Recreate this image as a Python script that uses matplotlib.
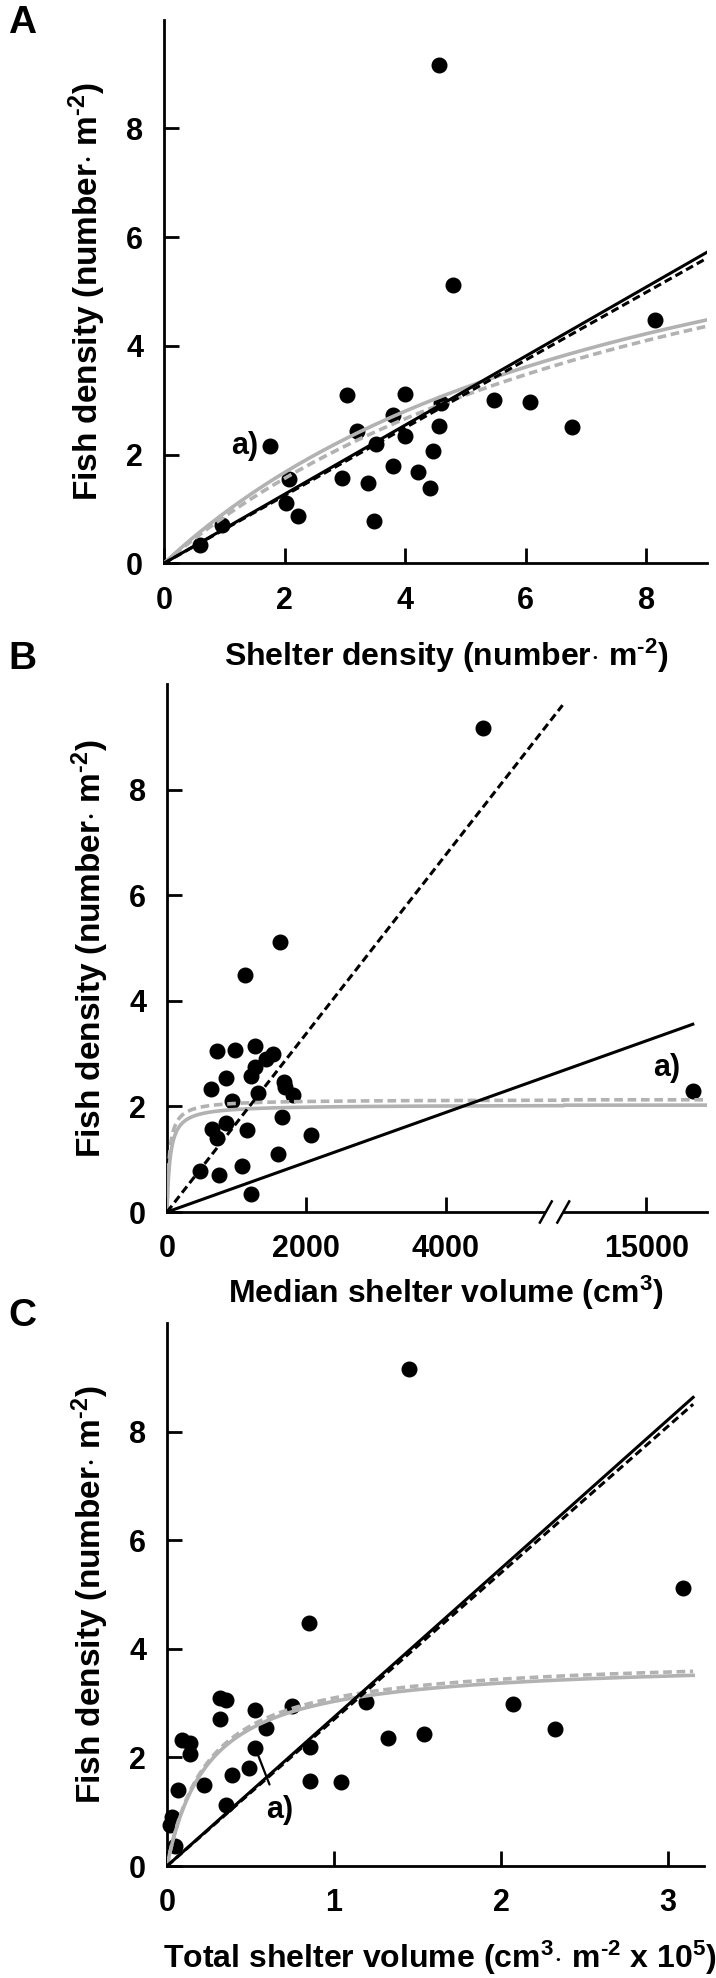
import numpy as np
import matplotlib
matplotlib.use("Agg")
import matplotlib.pyplot as plt
from matplotlib.patches import Rectangle

plt.rcParams['font.family'] = ['Liberation Sans', 'DejaVu Sans']
plt.rcParams['font.weight'] = 'bold'
plt.rcParams['mathtext.fontset'] = 'custom'
plt.rcParams['mathtext.rm'] = 'Liberation Sans:bold'
plt.rcParams['mathtext.bf'] = 'Liberation Sans:bold'
plt.rcParams['mathtext.it'] = 'Liberation Sans:bold'

# ---------------- data ----------------
# Panel A: shelter density vs fish density
A_x = [4.56, 4.80, 8.15, 5.48, 6.08, 6.77, 3.03, 4.00, 4.59, 3.80, 3.20, 4.56, 4.00, 3.52,
       1.76, 4.47, 3.80, 4.21, 2.95, 3.39, 4.41, 2.07, 2.02, 2.23, 3.48, 0.96, 0.59]
A_y = [9.17, 5.11, 4.47, 3.01, 2.96, 2.50, 3.09, 3.12, 2.95, 2.72, 2.44, 2.53, 2.35, 2.20,
       2.15, 2.07, 1.79, 1.67, 1.56, 1.47, 1.39, 1.55, 1.10, 0.87, 0.77, 0.70, 0.33]
A_lin_solid = 0.635
A_lin_dashed = 0.623
A_mm_solid = (8.6, 8.3)
A_mm_dashed = (8.93, 9.44)
A_xmax_fit = 9.0

# Panel B: median shelter volume vs fish density
B_x = [4541, 1622, 1121, 719, 974, 1261, 1415, 1525, 1261, 1204, 854, 638, 1679, 1688, 1309,
       1808, 935, 1655, 854, 1151, 647, 719, 2072, 1597, 1079, 480, 743, 1213, 15667]
B_y = [9.16, 5.12, 4.49, 3.04, 3.07, 3.14, 2.90, 2.99, 2.74, 2.57, 2.54, 2.33, 2.46, 2.36, 2.26,
       2.21, 2.11, 1.79, 1.68, 1.56, 1.58, 1.41, 1.46, 1.10, 0.88, 0.78, 0.71, 0.34, 2.30]
B_lin_solid = 0.000471     # per displayed axis unit
B_lin_dashed = 0.00169
B_dashed_end = 5680
B_mm_solid = (2.03, 45)
B_mm_dashed = (2.13, 35)

# Panel C: total shelter volume vs fish density
C_x = [1.45, 0.85, 3.09, 2.32, 0.317, 0.355, 0.528, 0.749, 1.189, 2.072, 0.317, 0.592, 0.090,
       0.137, 0.137, 0.528, 0.857, 1.321, 1.536, 0.492, 0.388, 0.221, 0.066, 0.857, 1.044,
       0.355, 0.030, 0.020, 0.046]
C_y = [9.16, 4.47, 5.12, 2.52, 3.10, 3.06, 2.87, 2.94, 3.02, 2.99, 2.71, 2.55, 2.32, 2.26, 2.07,
       2.17, 2.20, 2.36, 2.43, 1.80, 1.67, 1.49, 1.40, 1.56, 1.55, 1.13, 0.91, 0.75, 0.37]
C_lin_solid = 2.74
C_lin_dashed = 2.70
C_mm_solid = (3.79, 0.25)
C_mm_dashed = (3.87, 0.25)
C_xmax_fit = 3.15

A_xticks = [0, 2, 4, 6, 8]
B_xticks = [0, 2000, 4000, 15000]
C_xticks = [0, 1, 2, 3]
y_ticks = [0, 2, 4, 6, 8]

GRAY = '#b2b2b2'
TICK_FS = 22
LAB_FS = 23
SUP_M2 = '$^{\u2010' + '2}$'

def mm(x, p):
    a, b = p
    x = np.asarray(x, dtype=float)
    return a * x / (b + x)

# broken axis for panel B
BRK = 5700.0
OFF = 8117.0
B_XMAX = 15864.0
def fwd(x):
    x = np.asarray(x, dtype=float)
    return np.where(x <= BRK, x, np.where(x >= BRK + OFF, x - OFF, BRK))
def inv(u):
    u = np.asarray(u, dtype=float)
    return np.where(u <= BRK, u, u + OFF)

fig = plt.figure(figsize=(7.16, 19.78), dpi=100)
W, H = 716.0, 1978.0

def make_ax(left, right, top, bottom):
    return fig.add_axes([left / W, 1 - bottom / H, (right - left) / W, (bottom - top) / H])

axA = make_ax(164, 706.5, 19.5, 563.3)
axB = make_ax(167, 706.5, 684, 1212)
axC = make_ax(167, 704, 1323, 1866)

def style(ax):
    for s in ['top', 'right']:
        ax.spines[s].set_visible(False)
    for s in ['left', 'bottom']:
        ax.spines[s].set_linewidth(2.0)
    ax.tick_params(direction='in', length=11, width=2.0, labelsize=TICK_FS)
    ax.tick_params(axis='y', pad=15)
    ax.tick_params(axis='x', pad=16)
    for lab in ax.get_xticklabels() + ax.get_yticklabels():
        lab.set_fontweight('bold')
    ax.set_ylim(0, 10)
    ax.set_yticks(y_ticks)
    ax.set_ylabel('Fish density (number$\\cdot$ m' + SUP_M2 + ')', fontsize=LAB_FS + 1,
                  fontweight='bold', labelpad=13)

def pts(ax, x, y):
    ax.plot(x, y, 'o', color='black', markersize=10.5, zorder=2, clip_on=False)

dash_black = (0, (2.6, 1.4))
dash_gray = (0, (2.4, 1.3))

# ---- Panel A ----
pts(axA, A_x, A_y)
xa = np.linspace(0, A_xmax_fit, 300)
axA.plot(xa, mm(xa, A_mm_solid), color=GRAY, lw=2.6, zorder=3)
axA.plot(xa, mm(xa, A_mm_dashed), color=GRAY, lw=2.6, ls=dash_gray, zorder=3)
axA.plot(xa, A_lin_solid * xa, color='black', lw=2.2, zorder=4)
axA.plot(xa, A_lin_dashed * xa, color='black', lw=2.2, ls=dash_black, zorder=4)
axA.set_xlim(0, 9)
axA.set_xticks(A_xticks)
style(axA)
axA.text(A_x[14] - 0.2, A_y[14], 'a)', fontsize=22, fontweight='bold',
         ha='right', va='center')

# ---- Panel B ----
axB.set_xscale('function', functions=(fwd, inv))
pts(axB, B_x, B_y)
xb = np.concatenate([np.linspace(0, BRK, 3000), np.linspace(BRK + OFF, B_XMAX, 50)])
axB.plot(xb, mm(xb, B_mm_solid), color=GRAY, lw=2.6, zorder=3)
axB.plot(xb, mm(xb, B_mm_dashed), color=GRAY, lw=2.6, ls=dash_gray, zorder=3)
xd = np.array([0, B_dashed_end])
axB.plot(xd, B_lin_dashed * xd, color='black', lw=2.2, ls=dash_black, zorder=4)
xs = np.array([0, max(B_x)])
axB.plot(xs, B_lin_solid * fwd(xs), color='black', lw=2.2, zorder=4)
axB.set_xlim(0, B_XMAX)
axB.set_xticks(B_xticks)
axB.set_xticklabels([str(v) for v in B_xticks])
style(axB)
axB.text(B_x[-1] - 380, B_y[-1] + 0.42, 'a)', fontsize=22, fontweight='bold',
         ha='center', va='center')
# axis break
u1, u2 = 5440 / 7747, 5690 / 7747
axB.add_patch(Rectangle((u1, -0.01), u2 - u1, 0.02, transform=axB.transAxes,
                        facecolor='white', edgecolor='none', zorder=5, clip_on=False))
for u in (u1, u2):
    axB.plot([u - 0.011, u + 0.011], [-0.02, 0.02], transform=axB.transAxes,
             color='black', lw=1.8, clip_on=False, zorder=6)

# ---- Panel C ----
pts(axC, C_x, C_y)
xc = np.linspace(0, C_xmax_fit, 600)
axC.plot(xc, mm(xc, C_mm_solid), color=GRAY, lw=2.6, zorder=3)
axC.plot(xc, mm(xc, C_mm_dashed), color=GRAY, lw=2.6, ls=dash_gray, zorder=3)
axC.plot(xc, C_lin_solid * xc, color='black', lw=2.2, zorder=4)
axC.plot(xc, C_lin_dashed * xc, color='black', lw=2.2, ls=dash_black, zorder=4)
axC.set_xlim(0, 3.215)
axC.set_xticks(C_xticks)
style(axC)
axC.annotate('a)', xy=(C_x[15] + 0.005, C_y[15] - 0.03), xytext=(0.673, 1.03),
             fontsize=22, fontweight='bold', ha='center', va='center',
             arrowprops=dict(arrowstyle='-', color='black', lw=1.6, shrinkA=6, shrinkB=0),
             zorder=5)

# ---- x labels & panel letters ----
fig.text(446 / W, 1 - 656 / H, 'Shelter density (number$\\cdot$ m' + SUP_M2 + ')',
         fontsize=LAB_FS, fontweight='bold', ha='center', va='center')
fig.text(446 / W, 1 - 1293 / H, 'Median shelter volume (cm$^{3}$)',
         fontsize=LAB_FS, fontweight='bold', ha='center', va='center')
fig.text(440 / W, 1 - 1958 / H,
         'Total shelter volume (cm$^{3}$$\\cdot$ m' + SUP_M2 + ' x 10$^{5}$)',
         fontsize=LAB_FS, fontweight='bold', ha='center', va='center')
for lbl, yy in (('A', 23), ('B', 659), ('C', 1316)):
    fig.text(22 / W, 1 - yy / H, lbl, fontsize=28, fontweight='bold',
             ha='center', va='center')

fig.savefig('out.png', dpi=100)
